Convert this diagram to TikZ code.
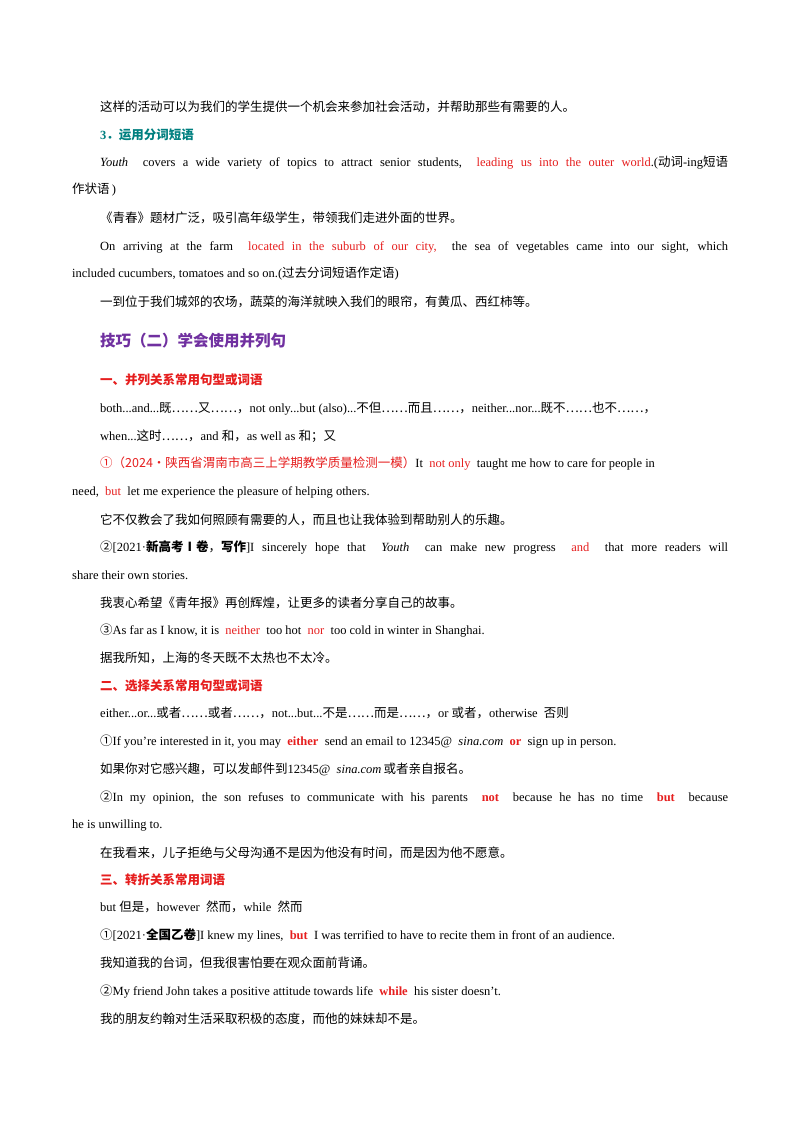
\documentclass[tikz,border=0pt]{standalone}
\usepackage{fontspec}
\setmainfont{Liberation Serif}
\newfontfamily\cjk{Noto Sans CJK SC}
\definecolor{rd}{RGB}{230,30,30}
\definecolor{tl}{RGB}{0,128,128}
\definecolor{pp}{RGB}{112,48,160}
\newcommand{\C}[1]{{\cjk #1}}
\newcommand{\R}[1]{\textcolor{rd}{#1}}
\newcommand{\J}[1]{\hbox to 628pt{#1}}
\newcommand{\cm}{\C{，}}
\begin{document}
\begin{tikzpicture}[x=1pt,y=1pt,
 t/.style={anchor=base west,inner sep=0pt,font=\fontsize{12.5}{15}\selectfont}]
\useasboundingbox[fill=white] (0,0) rectangle (800,-1132);
\def\a{100}\def\b{72}
\node[t] (l1) at (\a,-111) {\C{这样的活动可以为我们的学生提供一个机会来参加社会活动，并帮助那些有需要的人。}};
\node[t,text=tl,font=\fontsize{12.5}{15}\selectfont\bfseries] (l2) at (\a,-139) {3\C{．\bfseries 运用分词短语}};
\node[t] (l3) at (\a,-166) {\J{\textit{Youth}\ \ covers a wide variety of topics to attract senior students,\ \ \R{leading us into the outer world}.(\C{动词}-ing\C{短语}}};
\node[t] (l4) at (\b,-193) {\C{作状语}\,)};
\node[t] (l5) at (\a,-222) {\C{《青春》题材广泛，吸引高年级学生，带领我们走进外面的世界。}};
\node[t] (l6) at (\a,-250) {\J{On arriving at the farm\ \ \R{located in the suburb of our city,}\ \ the sea of vegetables came into our sight, which}};
\node[t] (l7) at (\b,-277) {included cucumbers, tomatoes and so on.(\C{过去分词短语作定语})};
\node[t] (l8) at (\a,-306) {\C{一到位于我们城郊的农场，蔬菜的海洋就映入我们的眼帘，有黄瓜、西红柿等。}};
\node[t,text=pp,font=\fontsize{15.5}{18}\selectfont] (h1) at (\a,-346) {\C{\bfseries 技巧（二）学会使用并列句}};
\node[t,text=rd] (h2) at (\a,-384) {\C{\bfseries 一、并列关系常用句型或词语}};
\node[t] (l9) at (\a,-412) {both...and...\C{既……又……}\cm not only...but (also)...\C{不但……而且……}\cm neither...nor...\C{既不……也不……}\cm};
\node[t] (l10) at (\a,-440) {when...\C{这时……}\cm and \C{和}\cm as well as \C{和；又}};
\node[t] (l11) at (\a,-467) {\R{\C{①（2024·陕西省渭南市高三上学期教学质量检测一模）}}It\ \ \R{not only}\ \ taught me how to care for people in};
\node[t] (l12) at (\b,-495) {need,\ \ \R{but}\ \ let me experience the pleasure of helping others.};
\node[t] (l13) at (\a,-524) {\C{它不仅教会了我如何照顾有需要的人，而且也让我体验到帮助别人的乐趣。}};
\node[t] (l14) at (\a,-551) {\J{\C{②}[2021·\C{\bfseries 新高考Ⅰ卷}\cm\C{\bfseries 写作}]I sincerely hope that\ \ \textit{Youth}\ \ can make new progress\ \ \R{and}\ \ that more readers will}};
\node[t] (l15) at (\b,-579) {share their own stories.};
\node[t] (l16) at (\a,-607) {\C{我衷心希望《青年报》再创辉煌，让更多的读者分享自己的故事。}};
\node[t] (l17) at (\a,-634) {\C{③}As far as I know, it is\ \ \R{neither}\ \ too hot\ \ \R{nor}\ \ too cold in winter in Shanghai.};
\node[t] (l18) at (\a,-662) {\C{据我所知，上海的冬天既不太热也不太冷。}};
\node[t,text=rd] (h3) at (\a,-690) {\C{\bfseries 二、选择关系常用句型或词语}};
\node[t] (l19) at (\a,-717) {either...or...\C{或者……或者……}\cm not...but...\C{不是……而是……}\cm or \C{或者}\cm otherwise\ \ \C{否则}};
\node[t] (l20) at (\a,-745) {\C{①}If you're interested in it, you may\ \ \R{\textbf{either}}\ \ send an email to 12345@\ \ \textit{sina.com}\ \ \R{\textbf{or}}\ \ sign up in person.};
\node[t] (l21) at (\a,-773) {\C{如果你对它感兴趣，可以发邮件到}12345@\ \ \textit{sina.com}\,\C{或者亲自报名。}};
\node[t] (l22) at (\a,-801) {\J{\C{②}In my opinion, the son refuses to communicate with his parents\ \ \R{\textbf{not}}\ \ because he has no time\ \ \R{\textbf{but}}\ \ because}};
\node[t] (l23) at (\b,-828) {he is unwilling to.};
\node[t] (l24) at (\a,-857) {\C{在我看来，儿子拒绝与父母沟通不是因为他没有时间，而是因为他不愿意。}};
\node[t,text=rd] (h4) at (\a,-884) {\C{\bfseries 三、转折关系常用词语}};
\node[t] (l25) at (\a,-911) {but \C{但是}\cm however\ \ \C{然而}\cm while\ \ \C{然而}};
\node[t] (l26) at (\a,-939) {\C{①}[2021·\C{\bfseries 全国乙卷}]I knew my lines,\ \ \R{\textbf{but}}\ \ I was terrified to have to recite them in front of an audience.};
\node[t] (l27) at (\a,-967) {\C{我知道我的台词，但我很害怕要在观众面前背诵。}};
\node[t] (l28) at (\a,-995) {\C{②}My friend John takes a positive attitude towards life\ \ \R{\textbf{while}}\ \ his sister doesn't.};
\node[t] (l29) at (\a,-1023) {\C{我的朋友约翰对生活采取积极的态度，而他的妹妹却不是。}};
\end{tikzpicture}
\end{document}
